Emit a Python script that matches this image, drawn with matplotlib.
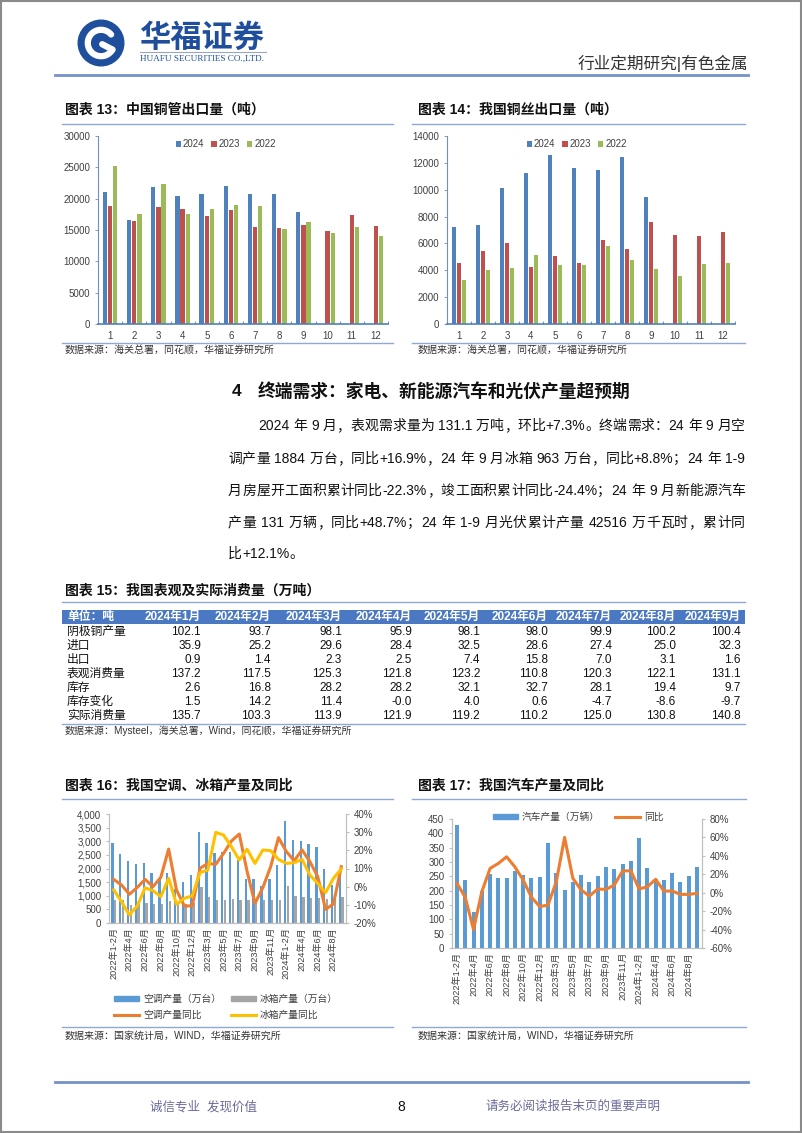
import re
import numpy as np
import matplotlib
matplotlib.use("Agg")
import matplotlib.pyplot as plt
from matplotlib.lines import Line2D
from matplotlib.patches import Rectangle, Circle, Patch
from matplotlib.ticker import FuncFormatter

# ---------------- data ----------------
months12 = ["1", "2", "3", "4", "5", "6", "7", "8", "9", "10", "11", "12"]
tube_2024 = [21050, 16600, 21900, 20450, 20700, 22050, 20750, 20700, 17800]
tube_2023 = [18900, 16400, 18600, 18350, 17200, 18200, 15500, 15350, 15800, 14800, 17350, 15650]
tube_2022 = [25150, 17550, 22400, 17550, 18350, 19000, 18850, 15150, 16300, 14600, 15450, 14100]

wire_2024 = [7210, 7380, 10150, 11280, 12570, 11600, 11500, 12420, 9460]
wire_2023 = [4570, 5430, 6050, 4220, 5040, 4540, 6220, 5580, 7630, 6640, 6590, 6840]
wire_2022 = [3280, 4000, 4150, 5140, 4400, 4370, 5780, 4740, 4120, 3600, 4440, 4520]

table_cols = ["2024年1月", "2024年2月", "2024年3月", "2024年4月", "2024年5月",
              "2024年6月", "2024年7月", "2024年8月", "2024年9月"]
table_rows = ["阴极铜产量", "进口", "出口", "表观消费量", "库存", "库存变化", "实际消费量"]
row_cathode = ["102.1", "93.7", "98.1", "95.9", "98.1", "98.0", "99.9", "100.2", "100.4"]
row_import = ["35.9", "25.2", "29.6", "28.4", "32.5", "28.6", "27.4", "25.0", "32.3"]
row_export = ["0.9", "1.4", "2.3", "2.5", "7.4", "15.8", "7.0", "3.1", "1.6"]
row_apparent = ["137.2", "117.5", "125.3", "121.8", "123.2", "110.8", "120.3", "122.1", "131.1"]
row_stock = ["2.6", "16.8", "28.2", "28.2", "32.1", "32.7", "28.1", "19.4", "9.7"]
row_stock_chg = ["1.5", "14.2", "11.4", "-0.0", "4.0", "0.6", "-4.7", "-8.6", "-9.7"]
row_actual = ["135.7", "103.3", "113.9", "121.9", "119.2", "110.2", "125.0", "130.8", "140.8"]

months30 = ["2022年1-2月", "2022年3月", "2022年4月", "2022年5月", "2022年6月", "2022年7月",
            "2022年8月", "2022年9月", "2022年10月", "2022年11月", "2022年12月",
            "2023年1-2月", "2023年3月", "2023年4月", "2023年5月", "2023年6月", "2023年7月",
            "2023年8月", "2023年9月", "2023年10月", "2023年11月", "2023年12月",
            "2024年1-2月", "2024年3月", "2024年4月", "2024年5月", "2024年6月", "2024年7月",
            "2024年8月", "2024年9月"]
ac_prod = [2920, 2550, 2275, 2165, 2210, 1820, 1660, 1850, 1230, 1500, 1750, 3330, 2930, 2580, 2600,
           2620, 2310, 1610, 1600, 1360, 1600, 2130, 3750, 3050, 3010, 2890, 2780, 1990, 1400, 1884]
fridge_prod = [860, 830, 670, 700, 740, 710, 700, 800, 760, 700, 720, 1320, 940, 860, 860,
               870, 850, 830, 860, 830, 830, 830, 1370, 1000, 940, 900, 900, 880, 870, 963]
ac_yoy = [4.0, 0.9, -4.2, -0.4, 4.0, 0.0, 5.1, 20.7, -1.8, -10.6, -10.6, 10.1, 12.8, 12.3, 18.3,
          25.1, 29.0, 8.3, -9.2, -0.6, 11.0, 27.0, 19.3, 14.3, 20.2, 13.8, 5.5, -12.5, -9.5, 11.0]
fridge_yoy = [-1.8, -8.3, -15.6, -10.6, -0.6, -2.2, -5.5, 4.6, -9.7, -6.4, -5.1, 7.7, 9.2, 29.9, 28.4,
              22.0, 14.7, 20.6, 12.8, 20.2, 19.8, 15.0, 12.8, 13.2, 15.0, 6.4, 1.8, -3.3, 4.6, 9.7]
car_prod = [429, 237, 127, 199, 257, 243, 243, 270, 255, 243, 248, 365, 260, 202, 229,
            255, 231, 251, 281, 277, 293, 303, 383, 278, 241, 236, 260, 229, 250, 281]
car_yoy = [10.1, -5.0, -40.0, 1.0, 26.4, 31.8, 39.0, 28.0, 13.7, -5.0, -15.0, -13.4, 12.0, 60.0, 15.6,
           3.0, -3.6, 4.0, 3.6, 8.3, 23.5, 23.9, 4.0, 6.5, 14.5, 1.8, 1.8, -1.8, -1.8, -0.7]

para_lines = [
    "2024 年 9 月，表观需求量为 131.1 万吨，环比+7.3%。终端需求：24 年 9 月空",
    "调产量 1884 万台，同比+16.9%，24 年 9 月冰箱 963 万台，同比+8.8%；24 年 1-9",
    "月房屋开工面积累计同比-22.3%，竣工面积累计同比-24.4%；24 年 9 月新能源汽车",
    "产量 131 万辆，同比+48.7%；24 年 1-9 月光伏累计产量 42516 万千瓦时，累计同",
    "比+12.1%。",
]

# ---------------- setup ----------------
MIX = ["Liberation Sans", "Noto Sans CJK SC"]
plt.rcParams["font.family"] = MIX
plt.rcParams["axes.unicode_minus"] = False

W, H = 802, 1133
fig = plt.figure(figsize=(W / 100, H / 100), dpi=100)
renderer = fig.canvas.get_renderer()

LINE_C = "#8FA8D6"
TICK_C = "#404040"


def add_ax(l, t, r, b):
    return fig.add_axes([l / W, 1 - b / H, (r - l) / W, (b - t) / H])


def ftext(x, y, s, **kw):
    kw.setdefault("fontfamily", MIX)
    return fig.text(x / W, 1 - y / H, s, **kw)


def hline(x0, x1, y, color=LINE_C, lw=1.0):
    fig.add_artist(Line2D([x0 / W, x1 / W], [1 - y / H, 1 - y / H], color=color, lw=lw,
                          transform=fig.transFigure))


def measure(s, fs, weight="normal"):
    t = fig.text(0, 0, s, fontsize=fs, fontfamily=MIX, weight=weight)
    w = t.get_window_extent(renderer).width
    t.remove()
    return w


def justify(line, x0, x1, y, fs, just=True, color="#111111"):
    tokens = re.findall(r"[0-9A-Za-z.+\-%]+| |[^ 0-9A-Za-z.+\-%]", line)
    widths = [fs * 100 / 72 * 0.28 if tk == " " else measure(tk, fs) for tk in tokens]
    total = sum(widths)
    gap = (x1 - x0 - total) / (len(tokens) - 1) if just else 0
    x = x0
    base = y + fs * 100 / 72 * 0.36
    for tk, w in zip(tokens, widths):
        if tk != " ":
            ftext(x, base, tk, fontsize=fs, va="baseline", ha="left", color=color)
        x += w + gap


# page border
fig.add_artist(Rectangle((0.001, 0.001), 0.998, 0.998, fill=False, ec="#8a8a8a", lw=1.5,
                         transform=fig.transFigure))

# ---------------- header ----------------
lax = add_ax(70, 19, 132, 67)
lax.set_xlim(-1.2, 1.2)
lax.set_ylim(-1.0, 1.0)
lax.set_aspect("equal")
lax.axis("off")
lax.add_patch(Circle((0, 0), 0.95, color="#1F4E9D"))
th = np.linspace(np.deg2rad(40), np.deg2rad(330), 60)
lax.plot(0.55 * np.cos(th), 0.55 * np.sin(th), color="white", lw=4.5, solid_capstyle="round")
lax.plot([0.55 * np.cos(np.deg2rad(330)), 0.05], [0.55 * np.sin(np.deg2rad(330)), -0.05],
         color="white", lw=4.5, solid_capstyle="round")
lax.fill([0, 0.28, 0, -0.28], [0.28, 0, -0.28, 0], color="#1F4E9D")

ftext(139, 38, "华福证券", fontsize=22.5, weight="bold", color="#1F4E9D", va="center", ha="left",
      fontfamily=["Noto Sans CJK SC"])
hline(140, 266, 52, color="#9aa6c0", lw=0.8)
ftext(140, 59, "HUAFU SECURITIES CO.,LTD.", fontsize=6.6, color="#1F4E9D", va="center", ha="left",
      fontfamily=["Liberation Serif"])
ftext(748, 63, "行业定期研究|有色金属", fontsize=12, color="#333333", va="center", ha="right")
hline(55, 748, 75, color="#7392C9", lw=2.0)

# ---------------- charts 13 & 14 ----------------
C24, C23, C22 = "#4F81BD", "#C0504D", "#9BBB59"


def grouped(box, d24, d23, d22, ymax, ystep, leg_x):
    ax = add_ax(*box)
    x = np.arange(1, 13)
    w = 0.18
    ax.bar(np.arange(1, len(d24) + 1) - 0.215, d24, w, color=C24, label="2024")
    ax.bar(x, d23, w, color=C23, label="2023")
    ax.bar(x + 0.215, d22, w, color=C22, label="2022")
    ax.set_xlim(0.5, 12.5)
    ax.set_ylim(0, ymax)
    ax.set_yticks(np.arange(0, ymax + 1, ystep))
    ax.set_xticks(x)
    ax.set_xticklabels(months12)
    ax.set_xticks(np.arange(0.5, 13, 1), minor=True)
    for s in ["top", "right"]:
        ax.spines[s].set_visible(False)
    ax.spines["left"].set_color("#6F8FC8")
    ax.spines["bottom"].set_color("#4F81BD")
    ax.spines["bottom"].set_linewidth(1.2)
    ax.tick_params(axis="y", labelsize=7, colors=TICK_C, length=2.5, width=0.6, pad=3)
    ax.tick_params(axis="y", color="#6F8FC8")
    ax.tick_params(axis="x", which="major", labelsize=7, labelcolor=TICK_C, length=0, pad=5)
    ax.tick_params(axis="x", which="minor", length=2.5, direction="in", color="#4F81BD")
    ax.legend(loc="upper center", bbox_to_anchor=(leg_x, 1.03), ncol=3, frameon=False, fontsize=7,
              handlelength=0.55, handleheight=0.55, handletextpad=0.2, columnspacing=0.7,
              labelcolor=TICK_C)
    return ax


ftext(65, 110, "图表 13：中国铜管出口量（吨）", fontsize=10, weight="bold", va="center", color="#111111")
hline(62, 393, 124)
grouped((98, 136, 388, 324), tube_2024, tube_2023, tube_2022, 30000, 5000, 0.44)
hline(62, 393, 343)
ftext(65, 351, "数据来源：海关总署，同花顺，华福证券研究所", fontsize=7.2, va="center", color="#333333")

ftext(418, 110, "图表 14：我国铜丝出口量（吨）", fontsize=10, weight="bold", va="center", color="#111111")
hline(412, 745, 124)
grouped((447, 136, 735, 324), wire_2024, wire_2023, wire_2022, 14000, 2000, 0.45)
hline(412, 745, 343)
ftext(418, 351, "数据来源：海关总署，同花顺，华福证券研究所", fontsize=7.2, va="center", color="#333333")

# ---------------- section 4 text ----------------
ftext(232, 392, "4", fontsize=12.5, weight="bold", va="center", ha="left", color="#111111")
ftext(258, 392, "终端需求：家电、新能源汽车和光伏产量超预期", fontsize=12.8, weight="bold",
      va="center", ha="left", color="#111111")
para_y = [425, 458, 490, 522, 553]
for i, (ln, yy) in enumerate(zip(para_lines, para_y)):
    x0 = 258 if i == 0 else 228
    justify(ln, x0, 745, yy, 10, just=(i < len(para_lines) - 1))

# ---------------- table 15 ----------------
ftext(65, 591, "图表 15：我国表观及实际消费量（万吨）", fontsize=10, weight="bold", va="center", color="#111111")
hline(62, 745, 602)
fig.add_artist(Rectangle((62 / W, 1 - 624 / H), (745 - 62) / W, 14 / H, color="#4A78C2",
                         transform=fig.transFigure, lw=0))
col_right = [201, 271, 342, 412, 480, 548, 612, 676, 741]
ftext(67, 617, "单位：吨", fontsize=8.5, weight="bold", color="white", va="center")
for c, xr in zip(table_cols, col_right):
    ftext(xr, 617, c, fontsize=8.5, weight="bold", color="white", va="center", ha="right")
table_data = [row_cathode, row_import, row_export, row_apparent, row_stock, row_stock_chg, row_actual]
row_y = [632, 646, 660, 674, 688, 702, 716]
for name, vals, yy in zip(table_rows, table_data, row_y):
    ftext(67, yy, name, fontsize=8.5, va="center", color="#111111")
    for v, xr in zip(vals, col_right):
        ftext(xr, yy, v, fontsize=8.5, va="center", ha="right", color="#111111")
hline(62, 745, 724)
ftext(65, 731, "数据来源：Mysteel，海关总署，Wind，同花顺，华福证券研究所", fontsize=7.2, va="center", color="#333333")

# ---------------- chart 16 ----------------
ftext(65, 786, "图表 16：我国空调、冰箱产量及同比", fontsize=10, weight="bold", va="center", color="#111111")
hline(62, 393, 799)
AC_C, FR_C, ACY_C, FRY_C = "#5B9BD5", "#A5A5A5", "#ED7D31", "#FFC000"
ax16 = add_ax(109, 814, 346, 923)
x30 = np.arange(len(months30))
ax16.bar(x30 - 0.17, ac_prod, 0.3, color=AC_C)
ax16.bar(x30 + 0.17, fridge_prod, 0.3, color=FR_C)
ax16.set_xlim(-0.6, len(months30) - 0.4)
ax16.set_ylim(0, 4000)
ax16.set_yticks(np.arange(0, 4001, 500))
ax16.yaxis.set_major_formatter(FuncFormatter(lambda v, p: f"{int(v):,}"))
ax16.set_xticks(x30[::2])
ax16.set_xticklabels(months30[::2], rotation=90, fontsize=6.6, color=TICK_C)
ax16.tick_params(axis="x", length=0, pad=3)
ax16.tick_params(axis="y", labelsize=7, colors=TICK_C, length=2, color="#BFBFBF")
ax16.spines["top"].set_visible(False)
for s in ["left", "right", "bottom"]:
    ax16.spines[s].set_color("#BFBFBF")
ax16b = ax16.twinx()
ax16b.plot(x30, ac_yoy, color=ACY_C, lw=2.2)
ax16b.plot(x30, fridge_yoy, color=FRY_C, lw=2.2)
ax16b.set_ylim(-20, 40)
ax16b.set_yticks(np.arange(-20, 41, 10))
ax16b.yaxis.set_major_formatter(FuncFormatter(lambda v, p: f"{int(v)}%"))
ax16b.tick_params(axis="y", labelsize=7, colors=TICK_C, length=2, color="#BFBFBF")
ax16b.spines["top"].set_visible(False)
for s in ["left", "right", "bottom"]:
    ax16b.spines[s].set_color("#BFBFBF")
h16 = [Patch(color=AC_C), Line2D([], [], color=ACY_C, lw=2.2),
       Patch(color=FR_C), Line2D([], [], color=FRY_C, lw=2.2)]
l16 = ["空调产量（万台）", "空调产量同比", "冰箱产量（万台）", "冰箱产量同比"]
fig.legend(h16, l16, loc="center", bbox_to_anchor=(226 / W, 1 - 1007 / H), ncol=2, frameon=False,
           fontsize=7, handlelength=2.6, handleheight=0.45, handletextpad=0.4, columnspacing=1.0,
           labelspacing=0.6, labelcolor=TICK_C)
hline(62, 393, 1027)
ftext(65, 1036, "数据来源：国家统计局，WIND，华福证券研究所", fontsize=7.2, va="center", color="#333333")

# ---------------- chart 17 ----------------
ftext(418, 786, "图表 17：我国汽车产量及同比", fontsize=10, weight="bold", va="center", color="#111111")
hline(412, 746, 799)
ax17 = add_ax(452, 819, 702, 948)
ax17.bar(x30, car_prod, 0.48, color=AC_C)
ax17.set_xlim(-0.6, len(months30) - 0.4)
ax17.set_ylim(0, 450)
ax17.set_yticks(np.arange(0, 451, 50))
ax17.set_xticks(x30[::2])
ax17.set_xticklabels(months30[::2], rotation=90, fontsize=6.6, color=TICK_C)
ax17.tick_params(axis="x", length=0, pad=3)
ax17.tick_params(axis="y", labelsize=7, colors=TICK_C, length=2, color="#BFBFBF")
ax17.spines["top"].set_visible(False)
for s in ["left", "right", "bottom"]:
    ax17.spines[s].set_color("#BFBFBF")
ax17b = ax17.twinx()
ax17b.plot(x30, car_yoy, color=ACY_C, lw=2.2)
ax17b.set_ylim(-60, 80)
ax17b.set_yticks(np.arange(-60, 81, 20))
ax17b.yaxis.set_major_formatter(FuncFormatter(lambda v, p: f"{int(v)}%"))
ax17b.tick_params(axis="y", labelsize=7, colors=TICK_C, length=2, color="#BFBFBF")
ax17b.spines["top"].set_visible(False)
for s in ["left", "right", "bottom"]:
    ax17b.spines[s].set_color("#BFBFBF")
h17 = [Patch(color=AC_C), Line2D([], [], color=ACY_C, lw=2.2)]
fig.legend(h17, ["汽车产量（万辆）", "同比"], loc="center", bbox_to_anchor=(578 / W, 1 - 817 / H),
           ncol=2, frameon=False, fontsize=7, handlelength=2.6, handleheight=0.45, handletextpad=0.4,
           columnspacing=1.5, labelcolor=TICK_C)
hline(412, 746, 1027)
ftext(418, 1036, "数据来源：国家统计局，WIND，华福证券研究所", fontsize=7.2, va="center", color="#333333")

# ---------------- footer ----------------
hline(55, 748, 1082, color="#7392C9", lw=2.0)
ftext(150, 1107, "诚信专业  发现价值", fontsize=9, color="#6B6B9B", va="center", ha="left")
ftext(401, 1107, "8", fontsize=10, color="#111111", va="center", ha="center")
ftext(485, 1107, "请务必阅读报告末页的重要声明", fontsize=9, color="#6B6B9B", va="center", ha="left")

fig.savefig("out.png", dpi=100)
